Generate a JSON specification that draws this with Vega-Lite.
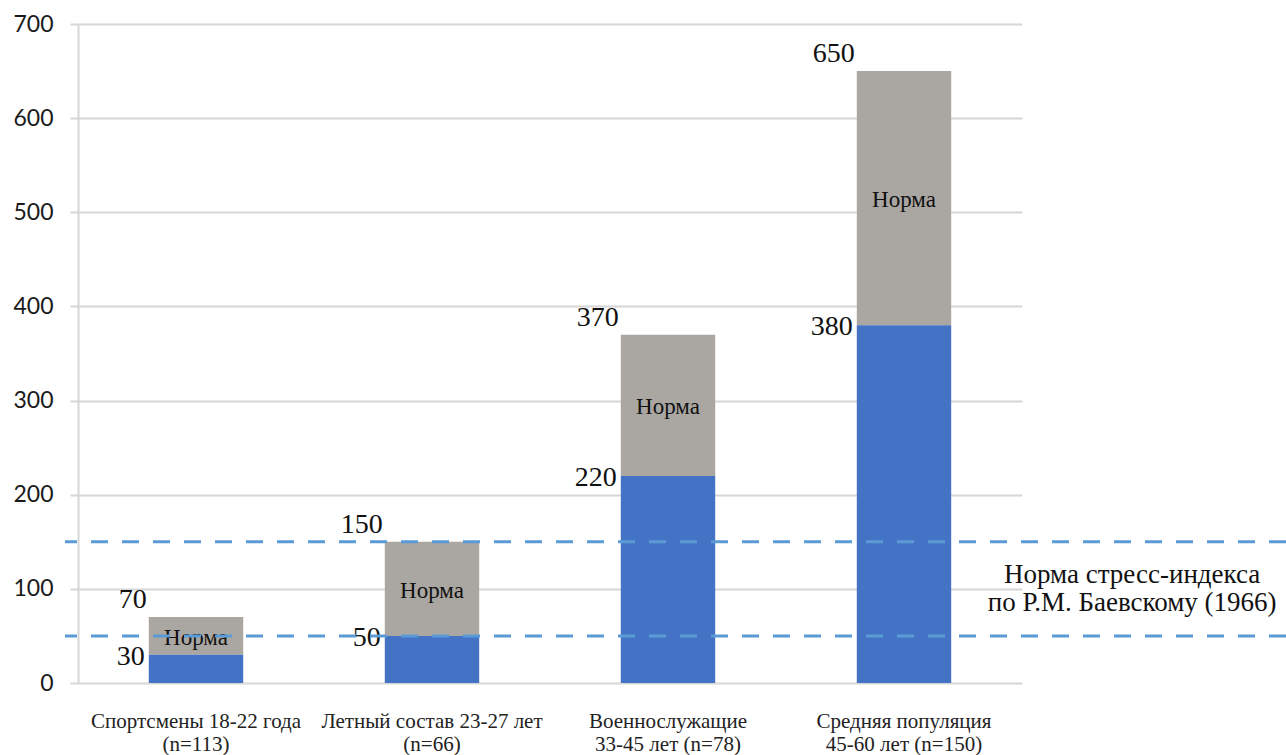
{
  "$schema": "https://vega.github.io/schema/vega-lite/v6.json",
  "width": 1221,
  "height": 659,
  "autosize": {"type": "none"},
  "padding": {"left": 65, "top": 24, "right": 0, "bottom": 72},
  "background": "white",
  "config": {"view": {"stroke": null}},
  "datasets": {
    "groups": [
      {"group": "Спортсмены 18-22 года|(n=113)", "low": 30, "total": 70},
      {"group": "Летный состав 23-27 лет|(n=66)", "low": 50, "total": 150},
      {"group": "Военнослужащие|33-45 лет (n=78)", "low": 220, "total": 370},
      {"group": "Средняя популяция|45-60 лет (n=150)", "low": 380, "total": 650}
    ],
    "norms": [{"norm": 50}, {"norm": 150}],
    "note": [{"pos": 0.874, "level": 100, "line1": "Норма стресс-индекса", "line2": "по Р.М. Баевскому (1966)"}]
  },
  "layer": [
    {
      "layer": [
        {
          "data": {"name": "groups"},
          "mark": {"type": "bar", "color": "#aaa6a2"},
          "encoding": {
            "x": {
              "field": "group", "type": "nominal", "sort": null,
              "scale": {"range": [13, 957], "paddingInner": 0.6, "paddingOuter": 0.3},
              "axis": {
                "title": null, "domain": false, "ticks": false, "grid": false, "labelAngle": 0,
                "labelPadding": 27, "labelFont": "Liberation Serif", "labelFontSize": 21,
                "labelColor": "#222", "labelLineHeight": 23, "labelLimit": 0,
                "labelExpr": "split(datum.label, '|')"
              }
            },
            "y": {
              "field": "total", "type": "quantitative",
              "scale": {"domain": [0, 700], "nice": false},
              "axis": {
                "title": null, "values": [0, 100, 200, 300, 400, 500, 600, 700],
                "grid": true, "gridColor": "#d6d6d6", "gridWidth": 2,
                "domainColor": "#d6d6d6", "domainWidth": 2,
                "tickColor": "#d6d6d6", "tickWidth": 2, "tickSize": 8,
                "labelFont": "Lato", "labelFontSize": 23, "labelColor": "#1a1a1a",
                "labelPadding": 17, "offset": -13
              }
            },
            "y2": {"field": "low"}
          }
        },
        {
          "data": {"name": "groups"},
          "mark": {"type": "bar", "color": "#4472c4"},
          "encoding": {
            "x": {"field": "group", "type": "nominal", "sort": null},
            "y": {"field": "low", "type": "quantitative"}
          }
        },
        {
          "data": {"name": "groups"},
          "mark": {"type": "text", "align": "right", "baseline": "bottom", "dx": -2, "dy": -3, "font": "Liberation Serif", "fontSize": 28, "color": "#111"},
          "encoding": {
            "x": {"field": "group", "type": "nominal", "sort": null, "bandPosition": 0},
            "y": {"field": "total", "type": "quantitative"},
            "text": {"field": "total", "type": "quantitative"}
          }
        },
        {
          "data": {"name": "groups"},
          "mark": {"type": "text", "align": "right", "baseline": "middle", "dx": -4, "dy": 2, "font": "Liberation Serif", "fontSize": 28, "color": "#111"},
          "encoding": {
            "x": {"field": "group", "type": "nominal", "sort": null, "bandPosition": 0},
            "y": {"field": "low", "type": "quantitative"},
            "text": {"field": "low", "type": "quantitative"}
          }
        },
        {
          "data": {"name": "groups"},
          "transform": [
            {"fold": ["low", "total"], "as": ["part", "value"]},
            {"aggregate": [{"op": "mean", "field": "value", "as": "mid"}], "groupby": ["group"]}
          ],
          "mark": {"type": "text", "align": "center", "baseline": "middle", "dy": 2, "font": "Liberation Serif", "fontSize": 23, "color": "#111"},
          "encoding": {
            "x": {"field": "group", "type": "nominal", "sort": null},
            "y": {"field": "mid", "type": "quantitative"},
            "text": {"value": "Норма"}
          }
        },
        {
          "data": {"name": "norms"},
          "mark": {"type": "rule", "color": "#5b9bd5", "strokeWidth": 3, "strokeDash": [17, 14]},
          "encoding": {
            "y": {"field": "norm", "type": "quantitative"}
          }
        }
      ]
    },
    {
      "data": {"name": "note"},
      "layer": [
        {
          "mark": {"type": "text", "align": "center", "baseline": "bottom", "dy": 0, "font": "Liberation Serif", "fontSize": 27, "color": "#111"},
          "encoding": {
            "x": {"field": "pos", "type": "quantitative", "scale": {"domain": [0, 1], "nice": false}, "axis": null},
            "y": {"field": "level", "type": "quantitative"},
            "text": {"field": "line1"}
          }
        },
        {
          "mark": {"type": "text", "align": "center", "baseline": "top", "dy": 1, "font": "Liberation Serif", "fontSize": 27, "color": "#111"},
          "encoding": {
            "x": {"field": "pos", "type": "quantitative"},
            "y": {"field": "level", "type": "quantitative"},
            "text": {"field": "line2"}
          }
        }
      ]
    }
  ],
  "resolve": {"scale": {"x": "independent"}}
}
